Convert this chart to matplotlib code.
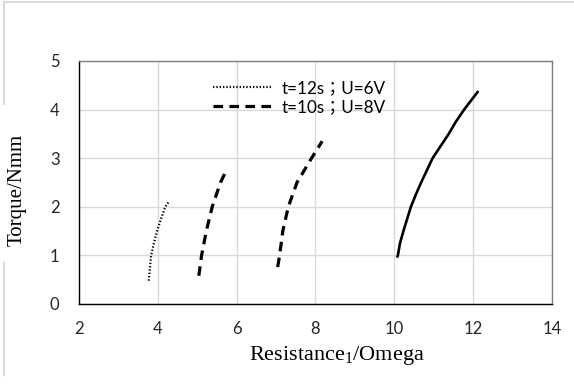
import matplotlib
matplotlib.use('Agg')
import matplotlib.pyplot as plt
from matplotlib.lines import Line2D

plt.rcParams['font.family'] = ['Lato', 'Noto Sans CJK TC', 'DejaVu Sans']
plt.rcParams['mathtext.fontset'] = 'custom'
plt.rcParams['mathtext.rm'] = 'Liberation Serif'

# curve t=12s ; U=6V (dotted)
res_6v = [3.77, 3.83, 3.90, 3.98, 4.08, 4.19, 4.29]
torque_6v = [0.48, 1.0, 1.25, 1.5, 1.75, 2.0, 2.12]
# curve t=10s ; U=8V (dashed)
res_8v = [5.04, 5.11, 5.23, 5.38, 5.59, 5.75]
torque_8v = [0.58, 1.0, 1.5, 2.0, 2.5, 2.77]
# second dashed curve
res_b = [7.04, 7.09, 7.17, 7.31, 7.53, 7.90, 8.17]
torque_b = [0.76, 1.0, 1.5, 2.0, 2.5, 3.0, 3.35]
# solid curve
res_c = [10.08, 10.09, 10.14, 10.23, 10.42, 10.55, 10.68, 10.97, 11.38, 11.56, 11.77, 12.11]
torque_c = [0.98, 1.0, 1.24, 1.5, 2.0, 2.26, 2.5, 3.0, 3.5, 3.75, 4.0, 4.36]

xticks = [2, 4, 6, 8, 10, 12, 14]
yticks = [0, 1, 2, 3, 4, 5]

fig = plt.figure(figsize=(5.74, 3.87), dpi=100)
ax = fig.add_axes([0.1376, 0.2145, 0.8241, 0.6279])

ax.plot(res_6v, torque_6v, color='black', lw=1.6, linestyle=(0, (0.6, 0.9)), label='t=12s；U=6V')
ax.plot(res_8v, torque_8v, color='black', lw=2.3, linestyle=(0, (3.0, 2.0)), label='t=10s；U=8V')
ax.plot(res_b, torque_b, color='black', lw=2.3, linestyle=(0, (3.0, 2.0)))
ax.plot(res_c, torque_c, color='black', lw=1.9, solid_joinstyle='round')

ax.set_xlim(2, 14)
ax.set_ylim(0, 5)
ax.set_xticks(xticks)
ax.set_yticks(yticks)
ax.grid(True, color='#d9d9d9', lw=1)
ax.set_axisbelow(True)
ax.tick_params(length=0, labelsize=12, labelcolor='#262626')
ax.tick_params(axis='y', pad=14)
ax.tick_params(axis='x', pad=12)
for s in ['left', 'bottom']:
    ax.spines[s].set_color('black')
    ax.spines[s].set_linewidth(1.0)
for s in ['top', 'right']:
    ax.spines[s].set_color('#7f7f7f')
    ax.spines[s].set_linewidth(1.0)

ax.set_xlabel(r'Resistance$_1$/Omega', family='Liberation Serif', fontsize=16)
ax.xaxis.set_label_coords(0.545, -0.165)
ax.set_ylabel('Torque/Nmm', family='Liberation Serif', fontsize=15)
ax.yaxis.set_label_coords(-0.11, 0.47)

ax.legend(loc='upper left', bbox_to_anchor=(0.25, 0.985), frameon=False, fontsize=12.3,
          handlelength=3.5, handletextpad=0.55, labelspacing=0.2)

# faint border of the original screenshot
fig.add_artist(Line2D([0.007, 0.007], [0.03, 0.32], color='#d9d9d9', lw=1.5, transform=fig.transFigure))
fig.add_artist(Line2D([0.007, 0.007], [0.73, 0.99], color='#d9d9d9', lw=1.5, transform=fig.transFigure))
fig.add_artist(Line2D([0.007, 1.0], [0.995, 0.995], color='#d9d9d9', lw=1.5, transform=fig.transFigure))

fig.savefig('out.png', dpi=100)
